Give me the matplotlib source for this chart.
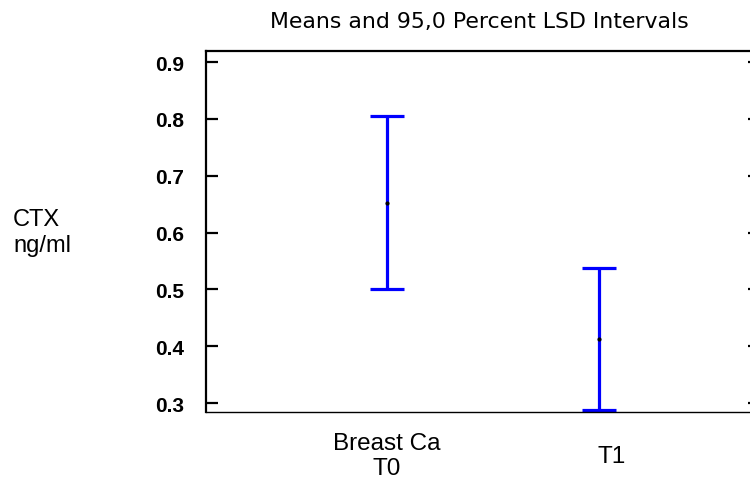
import matplotlib.pyplot as plt
from matplotlib.transforms import ScaledTranslation

# LSD interval plot: group means with 95% LSD interval bounds
groups = ["Breast Ca\nT0", "T1"]
means = [0.652, 0.413]
lower = [0.500, 0.287]
upper = [0.805, 0.538]
yticks = [0.3, 0.4, 0.5, 0.6, 0.7, 0.8, 0.9]

fig = plt.figure(figsize=(7.5, 4.89), dpi=100)
ax = fig.add_axes([206 / 750, 76 / 489, 554 / 750, 361 / 489])

xs = list(range(1, len(groups) + 1))
err = [[m - lo for m, lo in zip(means, lower)], [hi - m for m, hi in zip(means, upper)]]
ax.errorbar(xs, means, yerr=err, fmt="none", ecolor="#0000ff", elinewidth=2.3,
            capsize=12.5, capthick=2.3)
ax.plot(xs, means, "o", color="black", markersize=2)

ax.set_xlim(0.146, 2.759)
ax.set_ylim(0.2842, 0.9194)
ax.set_yticks(yticks)
ax.set_yticklabels([f"{v:.1f}" for v in yticks])
ax.set_xticks(xs)
ax.set_xticklabels(groups, fontsize=17.5, family="Liberation Sans")

ax.spines["right"].set_visible(False)
ax.spines["left"].set_linewidth(1.6)
ax.spines["top"].set_linewidth(1.6)
ax.spines["bottom"].set_linewidth(1.0)

ax.tick_params(axis="y", direction="in", length=8.6, width=1.6, left=True, right=True,
               pad=16, labelsize=15)
ax.tick_params(axis="x", length=0, pad=31.5)
for lab in ax.get_yticklabels():
    lab.set_fontweight("bold")
    lab.set_family("Liberation Sans")
for i, lab in enumerate(ax.get_xticklabels()):
    lab.set_va("center")
    if i == 1:
        lab.set_transform(lab.get_transform() + ScaledTranslation(13 / 100, 0, fig.dpi_scale_trans))

fig.text(479 / 750, 1 - 22 / 489, "Means and 95,0 Percent LSD Intervals", ha="center",
         va="center", fontsize=15.8, family="DejaVu Sans")
fig.text(13 / 750, 1 - 233 / 489, "CTX\nng/ml", ha="left", va="center", fontsize=17,
         family="Liberation Sans", linespacing=1.25)

fig.savefig("out.png", dpi=100)
